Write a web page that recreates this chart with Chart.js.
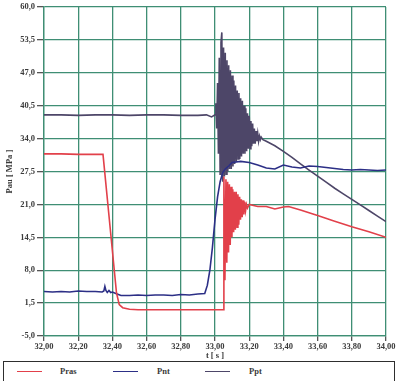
<!DOCTYPE html>
<html>
<head>
<meta charset="utf-8">
<script src="https://cdn.jsdelivr.net/npm/chart.js@4.4.0/dist/chart.umd.min.js"></script>
<style>
    html, body { margin: 0; padding: 0; background: #ffffff; }
    #wrap { position: relative; width: 401px; height: 381px; overflow: hidden; }
    #chartCanvas { position: absolute; left: 0; top: 0; }
    #legend {
        position: absolute; left: 3px; top: 361px; width: 392px; height: 22px;
        border: 1.5px solid #2e2e2e; box-sizing: border-box;
        font-family: "Liberation Serif", serif; font-weight: bold; font-size: 8.5px; color: #3a3a3a;
    }
    .item { position: absolute; top: 0; height: 19px; line-height: 19px; }
    .swatch { position: absolute; top: 9px; width: 25px; height: 0; border-top: 1.5px solid; }
    .label { position: absolute; top: 0; white-space: nowrap; }
</style>
</head>
<body>
<div id="wrap">
    <canvas id="chartCanvas" width="401" height="361"></canvas>
    <div id="legend"></div>
</div>
<script>
// Tick labels
const xTicks = [32.0, 32.2, 32.4, 32.6, 32.8, 33.0, 33.2, 33.4, 33.6, 33.8, 34.0];
const yTicks = [-5.0, 1.5, 8.0, 14.5, 21.0, 27.5, 34.0, 40.5, 47.0, 53.5, 60.0];

// Series names and colours
const seriesNames = ["Pras", "Pnt", "Ppt"];
const seriesColors = ["#e2404a", "#2c2f86", "#4d4668"];

// Pras
const prasT = [32.00, 32.10, 32.20, 32.30, 32.345, 32.424, 32.44, 32.46, 32.50, 32.55, 32.60, 32.80, 33.00, 33.048,
    33.052, 33.058, 33.064, 33.069, 33.074, 33.079, 33.084, 33.089, 33.094, 33.099, 33.104, 33.109, 33.114, 33.119,
    33.124, 33.129, 33.134, 33.139, 33.144, 33.149, 33.154, 33.159, 33.164, 33.169, 33.174, 33.179, 33.184, 33.19, 33.20,
    33.25, 33.30, 33.35, 33.40, 33.43, 33.50, 33.60, 33.70, 33.80, 33.90, 34.00];
const prasP = [31.0, 31.0, 30.9, 30.9, 30.9, 3.5, 1.2, 0.6, 0.3, 0.2, 0.2, 0.2, 0.2, 0.2,
    26.5, 6.0, 26.0, 9.5, 25.5, 11.5, 25.0, 13.0, 24.5, 14.5, 24.0, 15.5, 23.5, 16.0,
    23.5, 16.5, 23.0, 17.0, 22.5, 18.0, 22.0, 18.5, 21.8, 19.0, 21.5, 19.8, 21.0, 20.3, 21.0,
    20.6, 20.6, 20.1, 20.5, 20.6, 19.9, 18.8, 17.7, 16.6, 15.6, 14.5];

// Pnt
const pntT = [32.00, 32.05, 32.10, 32.15, 32.20, 32.25, 32.30, 32.34, 32.35, 32.356, 32.362, 32.37, 32.38, 32.39,
    32.40, 32.42, 32.45, 32.50, 32.55, 32.60, 32.65, 32.70, 32.75, 32.80, 32.85, 32.90, 32.94, 32.955, 32.97, 32.985,
    33.00, 33.015, 33.03, 33.045, 33.06, 33.08, 33.10, 33.15, 33.20, 33.25, 33.30, 33.35, 33.40, 33.45, 33.50, 33.55,
    33.60, 33.65, 33.70, 33.75, 33.80, 33.85, 33.90, 33.95, 34.00];
const pntP = [3.8, 3.7, 3.8, 3.7, 3.9, 3.8, 3.8, 3.7, 3.9, 4.8, 4.0, 3.6, 4.0, 3.6,
    3.7, 3.4, 3.0, 3.0, 3.1, 3.0, 3.1, 3.1, 3.0, 3.2, 3.1, 3.3, 3.4, 5.0, 8.0, 12.5,
    18.0, 22.5, 25.5, 27.3, 28.0, 28.6, 29.3, 29.5, 29.3, 28.8, 28.2, 28.0, 28.8, 28.4, 28.2, 28.6,
    28.5, 28.3, 28.1, 27.9, 27.8, 27.9, 27.8, 27.7, 27.8];

// Ppt
const pptT = [32.00, 32.10, 32.20, 32.30, 32.40, 32.50, 32.60, 32.70, 32.80, 32.90, 32.95, 32.98, 33.00,
    33.005, 33.010, 33.015, 33.020, 33.025, 33.030, 33.035, 33.040, 33.045, 33.050, 33.055, 33.060, 33.065, 33.070,
    33.075, 33.080, 33.085, 33.090, 33.095, 33.100, 33.105, 33.110, 33.115, 33.120, 33.125, 33.130, 33.135, 33.140,
    33.145, 33.150, 33.155, 33.160, 33.165, 33.170, 33.175, 33.180, 33.185, 33.190, 33.195, 33.200, 33.205, 33.210,
    33.215, 33.220, 33.225, 33.230, 33.235, 33.240, 33.245, 33.250, 33.255, 33.260, 33.265, 33.270, 33.280, 33.300,
    33.35, 33.40, 33.45, 33.50, 33.55, 33.60, 33.65, 33.70, 33.75, 33.80, 33.85, 33.90, 33.95, 34.00];
const pptP = [38.7, 38.7, 38.6, 38.7, 38.7, 38.6, 38.7, 38.7, 38.6, 38.6, 38.7, 38.3, 38.7,
    41.0, 36.0, 45.0, 31.0, 50.0, 27.0, 53.0, 55.0, 25.5, 52.0, 26.5, 51.0, 27.0, 49.5,
    27.5, 48.5, 28.0, 47.5, 28.0, 46.5, 28.5, 45.5, 29.0, 44.5, 29.5, 43.5, 30.0, 43.0,
    30.0, 42.0, 30.5, 41.5, 31.0, 40.5, 31.0, 40.0, 31.5, 39.0, 32.0, 38.5, 32.0, 37.5,
    32.5, 37.0, 33.0, 36.0, 33.0, 35.5, 33.5, 35.0, 33.5, 34.5, 33.8, 34.3, 33.8, 33.5,
    32.6, 31.5, 30.3, 29.0, 27.8, 26.6, 25.4, 24.2, 23.1, 22.0, 20.9, 19.8, 18.7, 17.6];

document.addEventListener("DOMContentLoaded", () => {
    const gridColor = "#3f8e74";
    const textColor = "#3a3a3a";
    const tickFont = { family: "Liberation Serif", size: 8.5, weight: "bold" };

    // Turn t/value arrays into points
    function toPoints(ts, vs) {
        return ts.map((t, i) => ({ x: t, y: vs[i] }));
    }

    const seriesData = [toPoints(prasT, prasP), toPoints(pntT, pntP), toPoints(pptT, pptP)];

    // Draw order: Ppt under, then Pnt, then Pras on top
    const datasets = seriesNames.map((name, i) => ({
        label: name,
        data: seriesData[i],
        borderColor: seriesColors[i],
        backgroundColor: seriesColors[i],
        borderWidth: 1.6,
        pointRadius: 0,
        tension: 0,
        fill: false,
        order: i === 0 ? 0 : (i === 1 ? 1 : 2),
    }));

    new Chart(document.getElementById("chartCanvas").getContext("2d"), {
        type: "line",
        data: { datasets: datasets },
        options: {
            responsive: false,
            animation: false,
            layout: { padding: { top: 5, right: 15, left: 0, bottom: 0 } },
            plugins: { legend: { display: false }, tooltip: { enabled: false } },
            scales: {
                x: {
                    type: "linear",
                    min: 32,
                    max: 34,
                    afterBuildTicks: axis => { axis.ticks = xTicks.map(v => ({ value: v })); },
                    afterFit: axis => { axis.height = 25; },
                    grid: { color: gridColor, lineWidth: 1.3, tickLength: 5, tickColor: "#555555" },
                    border: { color: gridColor, width: 1.3 },
                    ticks: {
                        font: tickFont,
                        color: textColor,
                        padding: 1,
                        maxRotation: 0,
                        autoSkip: false,
                        callback: v => v.toFixed(2).replace(".", ","),
                    },
                    title: {
                        display: true,
                        text: "t [ s ]",
                        font: tickFont,
                        color: textColor,
                        padding: { top: 0, bottom: 0 },
                    },
                },
                y: {
                    min: -5,
                    max: 60,
                    afterBuildTicks: axis => { axis.ticks = yTicks.map(v => ({ value: v })); },
                    afterFit: axis => { axis.width = 44; },
                    grid: { color: gridColor, lineWidth: 1.3, tickLength: 7, tickColor: "#555555" },
                    border: { color: gridColor, width: 1.3 },
                    ticks: {
                        font: tickFont,
                        color: textColor,
                        padding: 2,
                        autoSkip: false,
                        callback: v => v.toFixed(1).replace(".", ","),
                    },
                    title: {
                        display: true,
                        text: "Pau [ MPa ]",
                        font: tickFont,
                        color: textColor,
                        padding: { top: 5, bottom: 0 },
                    },
                },
            },
        },
    });

    // Legend row below the chart
    const legend = document.getElementById("legend");
    const swatchLeft = [13, 109, 201];
    const labelLeft = [56, 153, 245];
    seriesNames.forEach((name, i) => {
        const sw = document.createElement("div");
        sw.className = "swatch";
        sw.style.left = swatchLeft[i] + "px";
        sw.style.borderTopColor = seriesColors[i];
        legend.appendChild(sw);
        const lb = document.createElement("div");
        lb.className = "label item";
        lb.style.left = labelLeft[i] + "px";
        lb.textContent = name;
        legend.appendChild(lb);
    });
});
</script>
</body>
</html>
